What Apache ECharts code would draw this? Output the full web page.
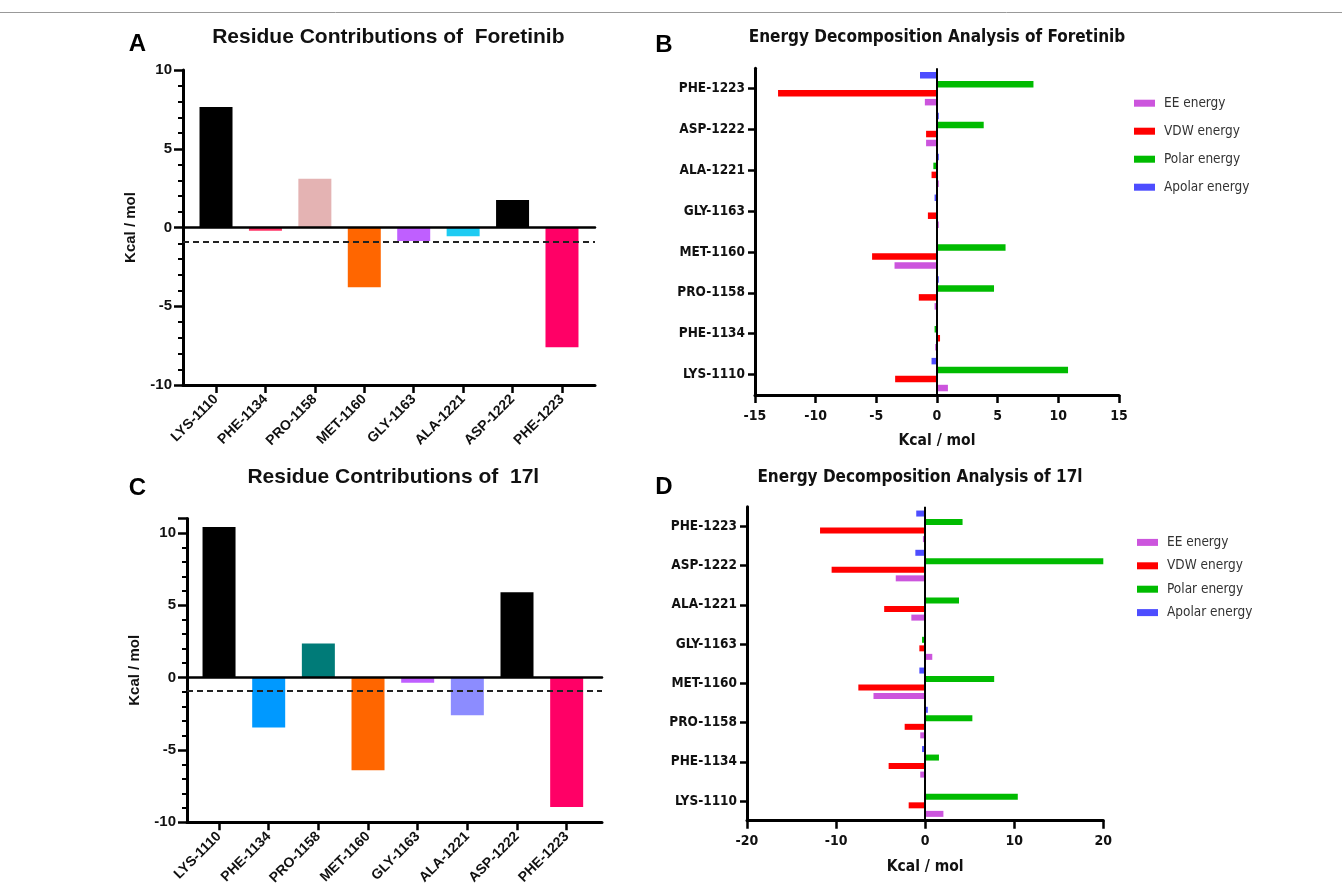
<!DOCTYPE html>
<html><head><meta charset="utf-8">
<script src="https://cdn.jsdelivr.net/npm/echarts@6/dist/echarts.min.js"></script>
<style>html,body{margin:0;padding:0;background:#fff}#c{width:1342px;height:889px}</style>
</head><body><div id="c"></div>
<script>
// ---------- data ----------
const residues = ['LYS-1110','PHE-1134','PRO-1158','MET-1160','GLY-1163','ALA-1221','ASP-1222','PHE-1223'];
const foretinibTotal = [7.65, -0.2, 3.1, -3.8, -0.85, -0.55, 1.75, -7.6];
const foretinibColors = ['#000000','#ff3366','#e4b3b3','#ff6600','#bf5fff','#1ecbf2','#000000','#ff0066'];
const c17lTotal = [10.4, -3.45, 2.35, -6.4, -0.35, -2.6, 5.9, -8.95];
const c17lColors = ['#000000','#0099ff','#007b78','#ff6600','#bf5fff','#8c8cff','#000000','#ff0066'];
const threshold = -0.9;
const energyNames = ['EE energy','VDW energy','Polar energy','Apolar energy'];
const energyColors = ['#cc55dd','#ff0000','#00bb00','#4d4dff'];
const foreEE     = [0.9, -0.15, -0.2, -3.5, 0.15, 0.15, -0.9, -1.0];
const foreVDW    = [-3.45, 0.25, -1.5, -5.35, -0.75, -0.45, -0.9, -13.1];
const forePolar  = [10.8, -0.2, 4.7, 5.65, 0, -0.3, 3.85, 7.95];
const foreApolar = [-0.45, 0, 0.15, 0, -0.2, 0.15, 0.15, -1.4];
const c17EE      = [2.05, -0.55, -0.55, -5.8, 0.8, -1.55, -3.3, -0.25];
const c17VDW     = [-1.85, -4.1, -2.3, -7.5, -0.65, -4.6, -10.5, -11.8];
const c17Polar   = [10.4, 1.55, 5.3, 7.75, -0.35, 3.8, 20, 4.2];
const c17Apolar  = [-0.1, -0.35, 0.3, -0.65, 0, 0, -1.1, -1.0];
const yTicksA = {min: -10, max: 10, interval: 5};
const yTicksC = {min: -10, max: 11, interval: 5};
const xTicksB = {min: -15, max: 15, interval: 5};
const xTicksD = {min: -20, max: 20, interval: 10};

// ---------- fonts ----------
function hasFont(name){
  const c = document.createElement('canvas').getContext('2d');
  const s = 'PHE-1223 Energy wmi';
  c.font = '40px monospace'; const w0 = c.measureText(s).width;
  c.font = '40px "' + name + '", monospace'; return Math.abs(c.measureText(s).width - w0) > 0.5;
}
const SANS = '"Liberation Sans", Arial, sans-serif';
let NAR = null, narKind = 0;
if (hasFont('Liberation Sans Narrow')) { NAR = '"Liberation Sans Narrow"'; narKind = 1; }
else if (hasFont('DejaVu Sans Condensed')) { NAR = '"DejaVu Sans Condensed"'; narKind = 2; }
const NF = NAR ? NAR + ', ' + SANS : SANS;
// sizes: [liberation narrow, dejavu condensed, fallback]
const nz = (a, b, c) => [c, a, b][narKind];

// ---------- builders ----------
const black = '#000';
function residuePanel(gAx, gBar, yT, name){
  return {
    x: [
      {gridIndex: gAx, type: 'value', min: 0, max: 1, z: 10,
       axisLine: {show: true, onZero: true, lineStyle: {color: black, width: 2.5}},
       axisTick: {show: false}, axisLabel: {show: false}, splitLine: {show: false}},
      {gridIndex: gAx, type: 'value', min: 0, max: 1, position: 'bottom',
       axisLine: {show: true, onZero: false, lineStyle: {color: black, width: 3}},
       axisTick: {show: false}, axisLabel: {show: false}, splitLine: {show: false}},
      {gridIndex: gBar, type: 'category', data: residues, position: 'bottom',
       axisLine: {show: false, onZero: false},
       axisTick: {show: true, alignWithLabel: true, length: 8, lineStyle: {color: black, width: 2.5}},
       axisLabel: {interval: 0, rotate: 45, margin: 12, fontFamily: SANS, fontWeight: 'bold', fontSize: 14, color: '#111'}}
    ],
    y: [
      {gridIndex: gAx, type: 'value', min: yT.min, max: yT.max, interval: yT.interval,
       axisLine: {show: true, onZero: false, lineStyle: {color: black, width: 3}},
       axisTick: {show: true, length: 9, lineStyle: {color: black, width: 2.5}},
       minorTick: {show: true, splitNumber: 5, length: 5, lineStyle: {color: black, width: 2}},
       axisLabel: {margin: 11, fontFamily: SANS, fontWeight: 'bold', fontSize: 15, color: '#111', showMaxLabel: yT.max % yT.interval === 0},
       splitLine: {show: false}, minorSplitLine: {show: false},
       name: name, nameLocation: 'middle', nameGap: 45,
       nameTextStyle: {fontFamily: SANS, fontWeight: 'bold', fontSize: 15, color: '#111'}},
      {gridIndex: gBar, type: 'value', min: yT.min, max: yT.max, interval: yT.interval, show: false}
    ]
  };
}
function energyAxes(g, xT){
  return {
    x: {gridIndex: g, type: 'value', min: xT.min, max: xT.max, interval: xT.interval,
        axisLine: {show: true, onZero: false, lineStyle: {color: black, width: 3}},
        axisTick: {show: true, length: 8, lineStyle: {color: black, width: 2.5}},
        axisLabel: {margin: 14, fontFamily: NF, fontWeight: 'bold', fontSize: nz(15, 14, 14), color: '#111'},
        splitLine: {show: false},
        name: 'Kcal / mol', nameLocation: 'middle', nameGap: 38,
        nameTextStyle: {fontFamily: NF, fontWeight: 'bold', fontSize: nz(18, 15.5, 15), color: '#111'}},
    y: {gridIndex: g, type: 'category', data: residues,
        axisLine: {show: true, onZero: false, lineStyle: {color: black, width: 3}},
        axisTick: {show: true, alignWithLabel: true, length: 7, lineStyle: {color: black, width: 2.5}},
        axisLabel: {interval: 0, margin: 10, fontFamily: NF, fontWeight: 'bold', fontSize: nz(15, 13.5, 13), color: '#111'}}
  };
}
// bars are placed bottom-to-top inside each band, so EE (bottom) must come first in the list order reversed
function energySeries(xi, yi, arrays, bw, gap){
  const order = [3, 2, 1, 0];
  return order.map((k, j) => {
    const s = {name: energyNames[k], type: 'bar', xAxisIndex: xi, yAxisIndex: yi, data: arrays[k],
               barWidth: bw, barGap: gap, itemStyle: {color: energyColors[k]}};
    if (j === 0) s.markLine = {silent: true, symbol: 'none', label: {show: false}, z: 6,
      lineStyle: {color: black, width: 2, type: 'solid'}, data: [{xAxis: 0}]};
    return s;
  });
}

const pA = residuePanel(0, 1, yTicksA, 'Kcal / mol');
const pC = residuePanel(2, 3, yTicksC, 'Kcal / mol');
const eB = energyAxes(4, xTicksB);
const eD = energyAxes(5, xTicksD);

const thresholdLine = (xi, yi) => ({type: 'line', xAxisIndex: xi, yAxisIndex: yi, data: [],
  markLine: {silent: true, symbol: 'none', label: {show: false}, z: 6,
    lineStyle: {color: '#222', width: 2, type: [6, 4]}, data: [{yAxis: threshold}]}});

const legendBase = {orient: 'vertical', icon: 'rect', itemWidth: 21, itemHeight: 7, data: energyNames,
  selectedMode: false, textStyle: {fontFamily: NF, fontSize: nz(15, 13.5, 13), color: '#333', lineHeight: 14, padding: [0,0,0,4]}};

const option = {
  animation: false,
  backgroundColor: '#fff',
  grid: [
    {left: 183, top: 70, width: 412, height: 315},
    {left: 191.3, top: 70, width: 395.4, height: 315},
    {left: 187, top: 518.4, width: 415, height: 303.9},
    {left: 194.2, top: 518.4, width: 397.3, height: 303.9},
    {left: 755, top: 68.3, width: 364, height: 326.7},
    {left: 747, top: 506.7, width: 356.3, height: 314}
  ],
  xAxis: [...pA.x, ...pC.x, eB.x, eD.x],
  yAxis: [...pA.y, ...pC.y, eB.y, eD.y],
  legend: [
    Object.assign({left: 1129, top: 91.2, itemGap: 14}, legendBase),
    Object.assign({left: 1132, top: 530.4, itemGap: 9.4}, legendBase)
  ],
  series: [
    {type: 'bar', xAxisIndex: 2, yAxisIndex: 1, barWidth: 33,
     data: foretinibTotal.map((v, i) => ({value: v, itemStyle: {color: foretinibColors[i]}}))},
    thresholdLine(0, 0),
    {type: 'bar', xAxisIndex: 5, yAxisIndex: 3, barWidth: 33,
     data: c17lTotal.map((v, i) => ({value: v, itemStyle: {color: c17lColors[i]}}))},
    thresholdLine(3, 2),
    ...energySeries(6, 4, [foreEE, foreVDW, forePolar, foreApolar], 6.5, '38%'),
    ...energySeries(7, 5, [c17EE, c17VDW, c17Polar, c17Apolar], 6, '42%')
  ],
  graphic: [
    {type: 'line', shape: {x1: 0, y1: 12.5, x2: 1342, y2: 12.5}, style: {stroke: '#999', lineWidth: 1}},
    {type: 'text', x: 137.5, y: 44, style: {text: 'A', font: 'bold 24px ' + SANS, fill: '#000', align: 'center', verticalAlign: 'middle'}},
    {type: 'text', x: 137.5, y: 488, style: {text: 'C', font: 'bold 24px ' + SANS, fill: '#000', align: 'center', verticalAlign: 'middle'}},
    {type: 'text', x: 664, y: 45, style: {text: 'B', font: 'bold 24px ' + SANS, fill: '#000', align: 'center', verticalAlign: 'middle'}},
    {type: 'text', x: 664, y: 487, style: {text: 'D', font: 'bold 24px ' + SANS, fill: '#000', align: 'center', verticalAlign: 'middle'}},
    {type: 'text', x: 388.3, y: 37, style: {text: 'Residue Contributions of  Foretinib', font: 'bold 21px ' + SANS, fill: '#111', align: 'center', verticalAlign: 'middle'}},
    {type: 'text', x: 393.3, y: 477, style: {text: 'Residue Contributions of  17l', font: 'bold 21px ' + SANS, fill: '#111', align: 'center', verticalAlign: 'middle'}},
    {type: 'text', x: 937, y: 38, style: {text: 'Energy Decomposition Analysis of Foretinib', font: 'bold ' + nz(18, 17, 15) + 'px ' + NF, fill: '#111', align: 'center', verticalAlign: 'middle'}},
    {type: 'text', x: 920, y: 478, style: {text: 'Energy Decomposition Analysis of 17l', font: 'bold ' + nz(18, 17, 15) + 'px ' + NF, fill: '#111', align: 'center', verticalAlign: 'middle'}}
  ]
};
const chart = echarts.init(document.getElementById('c'), null, {renderer: 'canvas'});
chart.setOption(option);
</script></body></html>
